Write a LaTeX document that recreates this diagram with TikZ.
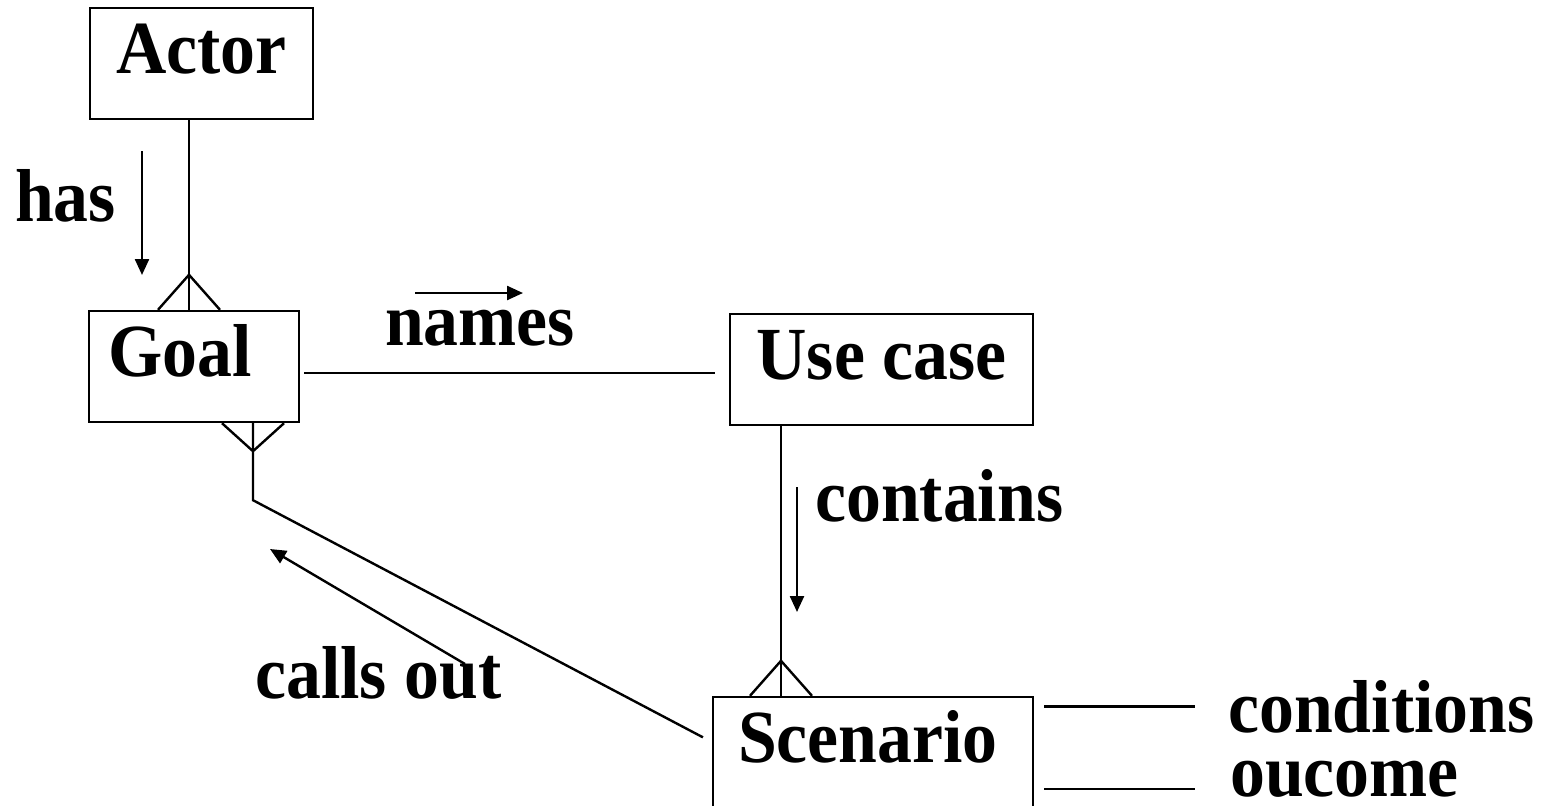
\documentclass[tikz,border=0pt]{standalone}
\usepackage{fontspec}
\setmainfont{Liberation Serif}[FakeStretch=0.93]
\usepackage{tikz}
\usetikzlibrary{
	arrows.meta,
	calc,
	positioning
}

\tikzset{
	entity/.style={draw, line width=2.4pt, inner sep=0pt, text height=65pt, text depth=46pt},
	tag/.style={inner sep=0pt, anchor=base west},
	link/.style={line width=2.4pt},
	dirarrow/.style={line width=2.4pt, -{Triangle[length=16pt, width=14pt]}},
	crowfoot/.pic={\draw[line width=2.4pt] (-31,0) -- (0,-35) -- (31,0);}
}

\begin{document}
\begin{tikzpicture}[x=1pt, y=-1pt, every node/.style={font=\bfseries\fontsize{75}{80}\selectfont}]
	\useasboundingbox (0,0) rectangle (1551,806);

	% boxes
	\node[entity, minimum width=223pt] (actor) at (201.5,63.5) {Actor};
	\node[entity, minimum width=210pt] (goal) at (194,366.5) {Goal\hspace*{28pt}};
	\node[entity, minimum width=303pt] (usecase) at (881.5,369.5) {Use case};
	\node[entity, minimum width=320pt] (scenario) at (873,752.5) {Scenario\hspace*{10pt}};

	% labels
	\node[tag] (has) at (15,221) {has};
	\node[tag] (names) at (385,345) {names};
	\node[tag] (contains) at (815,521) {contains};
	\node[tag] (callsout) at (255,698) {calls out};
	\node[tag] (conditions) at (1228,732) {conditions};
	\node[tag] (oucome) at (1230,796) {oucome};

	% Actor -- Goal
	\draw[link] ([xshift=-12.5pt]actor.south) -- ([xshift=-5pt]goal.north);
	\pic at ([xshift=-5pt]goal.north) {crowfoot};

	% Goal -- Use case
	\draw[link, shorten <=4pt, shorten >=14pt] ([yshift=-6.5pt]goal.east) -- ([yshift=-6.5pt]goal.east -| usecase.west);

	% Use case -- Scenario
	\draw[link] ([xshift=-100.5pt]usecase.south) -- ([xshift=-100.5pt]usecase.south |- scenario.north);
	\pic at ([xshift=-100.5pt]usecase.south |- scenario.north) {crowfoot};

	% Goal -- Scenario
	\draw[link, shorten >=10pt] ([xshift=59pt]goal.south) -- ++(0,77) -- ([yshift=10.5pt]scenario.west);
	\pic[yscale=-0.8] at ([xshift=59pt]goal.south) {crowfoot};

	% Scenario attributes
	\draw[link, shorten <=10pt, shorten >=33pt] ([yshift=-0pt]scenario.east |- conditions.west) -- ([yshift=-0pt]conditions.west);
	\draw[link, shorten <=10pt, shorten >=35pt] ([yshift=-10pt]scenario.east |- oucome.west) -- ([yshift=-10pt]oucome.west);

	% reading directions
	\coordinate (hasA) at (142,151);
	\coordinate (hasB) at (142,275);
	\coordinate (namesA) at (415,293);
	\coordinate (namesB) at (523,293);
	\coordinate (containsA) at (797,487);
	\coordinate (containsB) at (797,612);
	\coordinate (callsA) at (465,664);
	\coordinate (callsB) at (270,549);
	\draw[dirarrow] (hasA) -- (hasB);
	\draw[dirarrow] (namesA) -- (namesB);
	\draw[dirarrow] (containsA) -- (containsB);
	\draw[dirarrow] (callsA) -- (callsB);
\end{tikzpicture}
\end{document}
